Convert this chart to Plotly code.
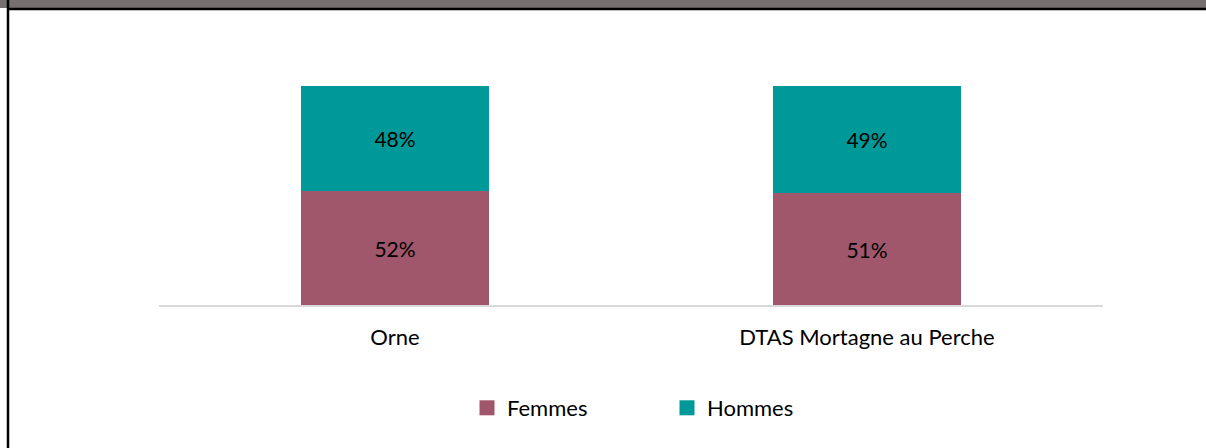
import plotly.graph_objects as go

categories = ["Orne", "DTAS Mortagne au Perche"]
femmes = [0.52, 0.51]
hommes = [0.48, 0.49]
series_names = ["Femmes", "Hommes"]
colors = ["#A0566B", "#009999"]

W, H = 1206, 448
L, R, T, B = 159, 1103, 86, 305

def px(x):
    return (x - L) / (R - L)

def py(y):
    return (B - y) / (B - T)

FONT = "Lato"
fig = go.Figure()
for name, vals, col in zip(series_names, [femmes, hommes], colors):
    fig.add_trace(go.Bar(
        name=name, x=categories, y=vals, marker=dict(color=col, line=dict(width=0)),
        width=0.4, texttemplate="%{y:.0%}", textposition="inside",
        insidetextanchor="middle", textangle=0,
        textfont=dict(family=FONT, size=21, color="#000000"),
        hoverinfo="skip", showlegend=False,
    ))
# legend entries (square swatches)
for name, col in zip(series_names, colors):
    fig.add_trace(go.Scatter(
        name=name, x=[None], y=[None], mode="markers",
        marker=dict(symbol="square", size=15, color=col), showlegend=True,
    ))

shapes = [
    dict(type="rect", xref="paper", yref="paper", x0=px(0), x1=px(W), y0=py(0), y1=py(8),
         fillcolor="#767170", line=dict(width=0), layer="above"),
    dict(type="line", xref="paper", yref="paper", x0=px(7), x1=px(W), y0=py(9), y1=py(9),
         line=dict(color="#000000", width=2.5)),
    dict(type="line", xref="paper", yref="paper", x0=px(8), x1=px(8), y0=py(0), y1=py(H),
         line=dict(color="#000000", width=2.5)),
]

fig.update_layout(
    width=W, height=H, barmode="stack",
    margin=dict(l=L, r=W - R, t=T, b=H - B, pad=0),
    paper_bgcolor="white", plot_bgcolor="white",
    font=dict(family=FONT, size=21, color="#000000"),
    shapes=shapes,
    xaxis=dict(showline=True, linecolor="#D9D9D9", linewidth=1.5, ticks="", showgrid=False,
               tickfont=dict(family=FONT, size=22), ticklabelstandoff=12, range=[-0.5, 1.5]),
    yaxis=dict(range=[0, 1], visible=False),
    legend=dict(orientation="h", x=px(667), xanchor="center", y=py(408), yanchor="middle",
                font=dict(family=FONT, size=22), entrywidth=155, entrywidthmode="pixels",
                traceorder="normal", itemwidth=30),
    showlegend=True,
)

fig.write_html("out.html", config={"displayModeBar": False},
               post_script="document.body.style.margin='0';document.body.style.overflow='hidden';")
